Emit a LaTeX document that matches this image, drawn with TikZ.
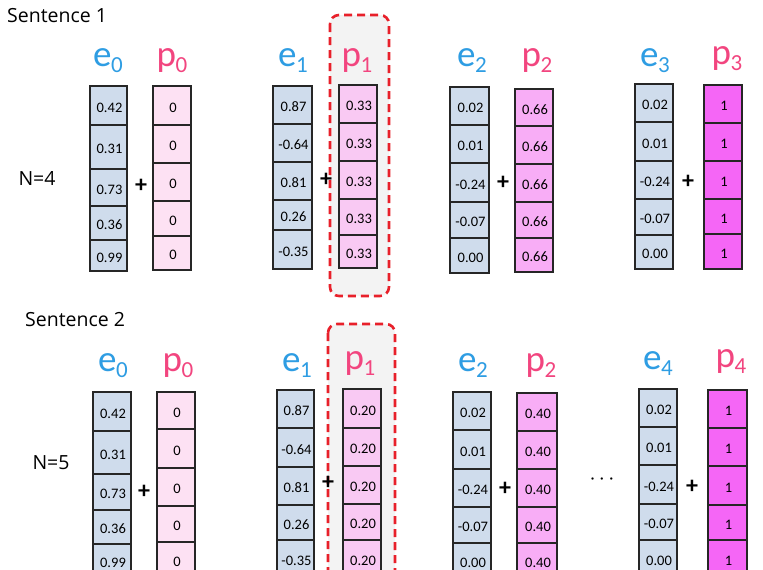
\documentclass[tikz,border=0pt]{standalone}
\usepackage{fontspec}
\setmainfont{Carlito}
\newfontfamily\headfont{Open Sans}
\definecolor{ecell}{HTML}{CFDCEC}
\definecolor{pzero}{HTML}{FDE1F3}
\definecolor{pone}{HTML}{F9C9F3}
\definecolor{ptwo}{HTML}{F8ADF6}
\definecolor{pthree}{HTML}{F566F6}
\definecolor{eblue}{HTML}{2E9DE3}
\definecolor{ppink}{HTML}{F2457F}
\definecolor{boxred}{HTML}{E8202A}
\definecolor{boxgray}{HTML}{F3F3F3}
\tikzset{
  cellbox/.style={draw=black!85, line width=1.1pt},
  celltext/.style={inner sep=0pt, font=\fontsize{14.5}{15}\selectfont},
  elabel/.style={anchor=base, inner sep=0pt, text=eblue, font=\fontsize{37}{40}\selectfont},
  plabel/.style={anchor=base, inner sep=0pt, text=ppink, font=\fontsize{37}{40}\selectfont},
  plussign/.style={inner sep=0pt, font=\fontsize{24}{24}\selectfont\bfseries},
  headtext/.style={inner sep=0pt, font=\headfont\fontsize{19.5}{21}\selectfont},
  redbox/.style={draw=boxred, fill=boxgray, line width=2.6pt, dash pattern=on 8pt off 5pt, rounded corners=9pt},
}
\newcommand\lab[2]{#1\kern-0.5pt\raisebox{-6pt}{\fontsize{23}{24}\selectfont #2}}
\newcommand\vcolumn[5]{%
  \foreach \ya/\yb/\v [count=\k] in {#5} {
    \draw[cellbox, fill=#4] (#2,\ya) rectangle (#3,\yb);
    \node[celltext] (#1-\k) at ({(#2+#3)/2+1}, {(\ya+\yb)/2+2}) {\v};
  }}
\begin{document}
\begin{tikzpicture}[x=1pt, y=-1pt]
\useasboundingbox (0,0) rectangle (763,570);
\clip (0,0) rectangle (763,570);
\fill[white] (0,0) rectangle (763,570);

% ---------------- Sentence 1 ----------------
\node[headtext, anchor=west] (s1) at (7,16) {Sentence 1};
\node[headtext] (n4) at (37,178) {N=4};

\draw[redbox] (330,15) rectangle (389,296);

\node[elabel] (ae0) at (108,66) {\lab{e}{0}};
\node[plabel] (ap0) at (172,66) {\lab{p}{0}};
\node[elabel] (ae1) at (293,66) {\lab{e}{1}};
\node[plabel] (ap1) at (357,66) {\lab{p}{1}};
\node[elabel] (ae2) at (472,66) {\lab{e}{2}};
\node[plabel] (ap2) at (537,66) {\lab{p}{2}};
\node[elabel] (ae3) at (655,66) {\lab{e}{3}};
\node[plabel] (ap3) at (727,64) {\lab{p}{3}};

\vcolumn{ta0}{90}{127}{ecell}{86/125/0.42,125/169/0.31,169/206/0.73,206/240/0.36,240/271/0.99}
\vcolumn{tb0}{153}{191}{pzero}{86/125/0,125/163/0,163/201/0,201/236/0,236/270/0}
\vcolumn{ta1}{273}{312}{ecell}{86/124/0.87,124/162/-0.64,162/200/0.81,200/230/0.26,230/269/-0.35}
\vcolumn{tb1}{339}{377}{pone}{85/123/0.33,123/161/0.33,161/199/0.33,199/235/0.33,235/268/0.33}
\vcolumn{ta2}{450}{489}{ecell}{87/125/0.02,125/163/0.01,163/202/-0.24,202/238/-0.07,238/273/0.00}
\vcolumn{tb2}{515}{553}{ptwo}{89/126/0.66,126/164/0.66,164/202/0.66,202/238/0.66,238/272/0.66}
\vcolumn{ta3}{635}{673}{ecell}{84/122/0.02,122/161/0.01,161/199/-0.24,199/235/-0.07,235/269/0.00}
\vcolumn{tb3}{704}{742}{pthree}{85/123/1,123/161/1,161/199/1,199/234/1,234/269/1}

\node[plussign] (tp0) at (141,186) {+};
\node[plussign] (tp1) at (326,180) {+};
\node[plussign] (tp2) at (503,183) {+};
\node[plussign] (tp3) at (688,182) {+};

% ---------------- Sentence 2 ----------------
\node[headtext, anchor=west] (s2) at (25,320) {Sentence 2};
\node[headtext] (n5) at (51,463) {N=5};

\draw[redbox] (328,324) rectangle (395,620);

\node[elabel] (be0) at (113,371) {\lab{e}{0}};
\node[plabel] (bp0) at (178,371) {\lab{p}{0}};
\node[elabel] (be1) at (297,371) {\lab{e}{1}};
\node[plabel] (bp1) at (360,369) {\lab{p}{1}};
\node[elabel] (be2) at (473,371) {\lab{e}{2}};
\node[plabel] (bp2) at (541,371) {\lab{p}{2}};
\node[elabel] (be4) at (658,369) {\lab{e}{4}};
\node[plabel] (bp4) at (731,367) {\lab{p}{4}};

\vcolumn{ba0}{93}{131}{ecell}{392/431/0.42,431/474/0.31,474/510/0.73,510/544/0.36,544/578/0.99}
\vcolumn{bb0}{157}{195}{pzero}{392/429/0,429/468/0,468/506/0,506/542/0,542/578/0}
\vcolumn{ba1}{277}{314}{ecell}{390/428/0.87,428/467/-0.64,467/505/0.81,505/540/0.26,540/578/-0.35}
\vcolumn{bb1}{343}{381}{pone}{389/428/0.20,428/466/0.20,466/504/0.20,504/540/0.20,540/578/0.20}
\vcolumn{ba2}{453}{491}{ecell}{392/430/0.02,430/469/0.01,469/507/-0.24,507/543/-0.07,543/578/0.00}
\vcolumn{bb2}{517}{557}{ptwo}{393/431/0.40,431/469/0.40,469/507/0.40,507/543/0.40,543/578/0.40}
\vcolumn{ba4}{639}{677}{ecell}{389/427/0.02,427/465/0.01,465/504/-0.24,504/540/-0.07,540/578/0.00}
\vcolumn{bb4}{708}{747}{pthree}{390/428/1,428/466/1,466/505/1,505/540/1,540/578/1}

\node[plussign] (bp0p) at (144,492) {+};
\node[plussign] (bp1p) at (328,483) {+};
\node[plussign] (bp2p) at (505,489) {+};
\node[plussign] (bp4p) at (692,487) {+};

\node[inner sep=0pt, font=\fontsize{16}{16}\selectfont] (dots) at (602,481) {·\,\,·\,\,·};
\end{tikzpicture}
\end{document}
